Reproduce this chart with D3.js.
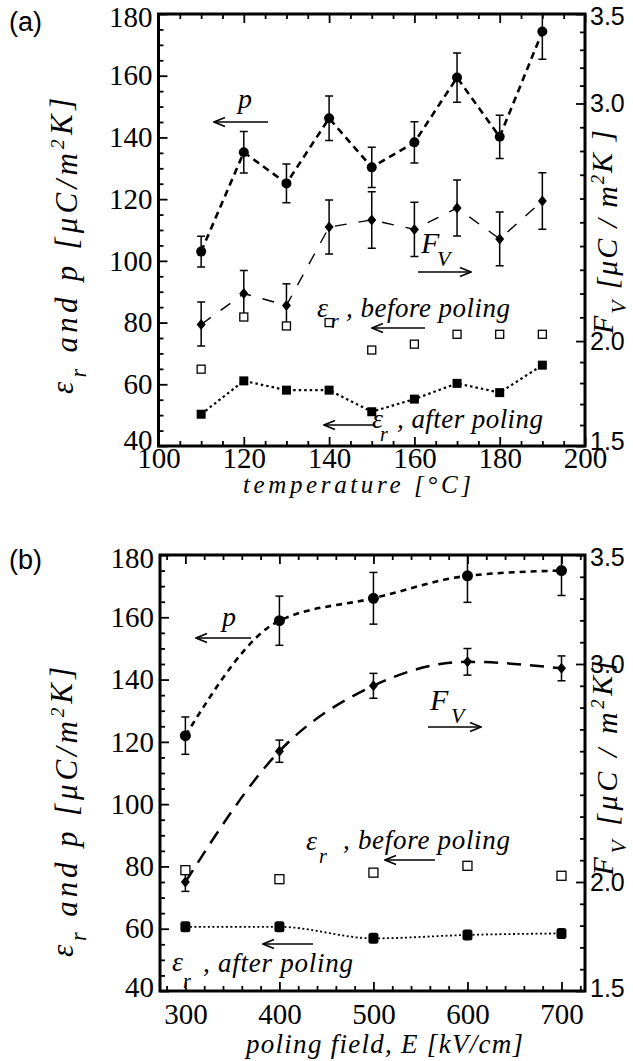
<!DOCTYPE html>
<html><head><meta charset="utf-8">
<script src="https://cdn.jsdelivr.net/npm/d3@7"></script>
<style>body{margin:0;background:#fff}svg{display:block}</style>
</head><body>
<svg id="c" width="633" height="1061"></svg>
<script>
// ---------- DATA ----------
const tempA = [110,120,130,140,150,160,170,180,190];
const pyroA = [103,135.2,125.1,146.2,130.3,138.4,159.4,140.2,174.3];
const pyroErrA = [5,6.7,6.3,7.2,6.5,6.7,8,7,9];
const fomA = [2.07,2.20,2.15,2.48,2.51,2.47,2.56,2.43,2.59];
const fomErrA = [0.094,0.097,0.091,0.114,0.119,0.114,0.118,0.113,0.119];
const epsBeforeA = [64.9,81.8,78.9,80.0,71.1,73.0,76.2,76.2,76.2];
const epsAfterA = [50.3,61.1,58.1,58.1,51.1,55.2,60.3,57.3,66.2];

const fieldB = [300,400,500,600,700];
const pyroB = [122.0,158.9,166.1,173.3,175.0];
const pyroErrB = [6,7.9,8.3,8.5,8];
const fomB = [2.00,2.60,2.90,3.01,2.98];
const fomErrB = [0.043,0.051,0.057,0.061,0.057];
const epsBeforeB = [78.8,75.9,78.0,80.2,77.0];
const epsAfterB = [60.6,60.6,56.9,58.0,58.5];

const leftTicks = [40,60,80,100,120,140,160,180];
const xTicksA = [100,120,140,160,180,200];
const xTicksB = [300,400,500,600,700];
const rightTicks = [1.5,2.0,3.0,3.5];

// ---------- SETUP ----------
const SERIF = "'Liberation Serif','Times New Roman',serif";
const SANS = "'Liberation Sans',Arial,sans-serif";
const svg = d3.select("#c");
svg.append("rect").attr("width",633).attr("height",1061).attr("fill","#fff");
const defs = svg.append("defs");
defs.append("marker").attr("id","ah").attr("viewBox","-1 -6 13 12")
  .attr("refX",11).attr("refY",0).attr("markerWidth",13).attr("markerHeight",12)
  .attr("markerUnits","userSpaceOnUse").attr("orient","auto")
  .append("path").attr("d","M0,-4.5L11,0L0,4.5").attr("fill","none")
  .attr("stroke","#000").attr("stroke-width",1.6);

function styleAxis(sel, font, size){
  sel.select(".domain").remove();
  sel.selectAll(".tick line").attr("stroke","#000").attr("stroke-width",1.8);
  sel.attr("font-family",font).attr("font-size",size);
  sel.selectAll(".tick text").attr("fill","#000");
}

function richText(g, x, y, parts, size, opts={}){
  const t = g.append("text").attr("x",x).attr("y",y)
    .attr("font-family",SERIF).attr("font-style","italic").attr("font-size",size).attr("fill","#000");
  if(opts.anchor) t.attr("text-anchor",opts.anchor);
  if(opts.transform) t.attr("transform",opts.transform);
  if(opts.len) t.attr("textLength",opts.len).attr("lengthAdjust","spacing");
  parts.forEach(p=>{
    const s = t.append("tspan").text(p.t);
    if(p.sub){ s.attr("dy",size*0.42).attr("font-size",size*0.72); }
    else if(p.sup){ s.attr("dy",-size*0.42).attr("font-size",size*0.62); }
    if(p.back) s.attr("dy",p.back*size);
  });
  return t;
}

function arrow(g,x1,y1,x2,y2){
  g.append("line").attr("x1",x1).attr("y1",y1).attr("x2",x2).attr("y2",y2)
   .attr("stroke","#000").attr("stroke-width",1.5).attr("marker-end","url(#ah)");
}

function panel(o){
  const g = svg.append("g");
  const {x,y,r} = o;
  const [X0,X1] = x.range(), [Y0,Y1] = y.range();
  const cid = "clip"+o.id;
  defs.append("clipPath").attr("id",cid).append("rect")
    .attr("x",X0).attr("y",Y1).attr("width",X1-X0).attr("height",Y0-Y1);

  const leftMinor = d3.range(40,181,5).filter(v=>v%20!==0);
  g.append("g").attr("transform",`translate(${X0},0)`)
    .call(d3.axisLeft(y).tickValues(leftMinor).tickSize(-5).tickFormat(""))
    .call(s=>styleAxis(s,SERIF,29));
  const la = g.append("g").attr("transform",`translate(${X0},0)`)
    .call(d3.axisLeft(y).tickValues(leftTicks).tickSize(-9).tickPadding(6).tickFormat(d3.format("d")))
    .call(s=>styleAxis(s,SERIF,29));
  la.selectAll(".tick text").attr("dy",d=>d===180?"0.42em":(d===40?o.lowDy:"0.32em"));

  const rMinor = d3.range(15,36).map(v=>v/10).filter(v=>!rightTicks.includes(v));
  g.append("g").attr("transform",`translate(${X1},0)`)
    .call(d3.axisRight(r).tickValues(rMinor).tickSize(-5).tickFormat(""))
    .call(s=>styleAxis(s,SANS,25));
  const ra = g.append("g").attr("transform",`translate(${X1},0)`)
    .call(d3.axisRight(r).tickValues(rightTicks).tickSize(-9).tickPadding(5).tickFormat(d3.format(".1f")))
    .call(s=>styleAxis(s,SANS,25));
  ra.selectAll(".tick text").attr("dy",d=>d===3.5?"0.42em":(d===1.5?o.lowDy:"0.32em"));

  [["bottom",Y0],["top",Y1]].forEach(([side,yy])=>{
    const gen = side==="bottom"?d3.axisBottom:d3.axisTop;
    g.append("g").attr("transform",`translate(0,${yy})`)
      .call(gen(x).tickValues(o.xMinor).tickSize(-5).tickFormat(""))
      .call(s=>styleAxis(s,SERIF,29));
    g.append("g").attr("transform",`translate(0,${yy})`)
      .call(gen(x).tickValues(o.xTicks).tickSize(-9).tickPadding(o.xPad)
        .tickFormat(side==="bottom"?d3.format("d"):""))
      .call(s=>styleAxis(s,SERIF,29));
  });

  g.append("rect").attr("x",X0).attr("y",Y1).attr("width",X1-X0).attr("height",Y0-Y1)
    .attr("fill","none").attr("stroke","#000").attr("stroke-width",3);

  const plot = g.append("g").attr("clip-path",`url(#${cid})`);
  const xs = o.xs;
  const line = (vals, sc) => d3.line().curve(o.curve).x((d,i)=>x(xs[i])).y(d=>sc(d))(vals);

  plot.append("path").attr("d",line(o.after,y)).attr("fill","none").attr("stroke","#000")
    .attr("stroke-width",o.afterW).attr("stroke-dasharray",o.afterDash);
  plot.append("path").attr("d",line(o.fom,r)).attr("fill","none").attr("stroke","#000")
    .attr("stroke-width",o.fomW).attr("stroke-dasharray",o.fomDash);
  plot.append("path").attr("d",line(o.pyro,y)).attr("fill","none").attr("stroke","#000")
    .attr("stroke-width",o.pyroW).attr("stroke-dasharray",o.pyroDash);

  const ebar = (vals, errs, sc) => {
    vals.forEach((v,i)=>{
      const cx = x(xs[i]), ya = sc(v+errs[i]), yb = sc(v-errs[i]);
      plot.append("line").attr("x1",cx).attr("x2",cx).attr("y1",ya).attr("y2",yb)
        .attr("stroke","#000").attr("stroke-width",1.5);
      [ya,yb].forEach(yy=>plot.append("line").attr("x1",cx-4).attr("x2",cx+4).attr("y1",yy).attr("y2",yy)
        .attr("stroke","#000").attr("stroke-width",1.5));
    });
  };
  ebar(o.pyro,o.pyroErr,y);
  ebar(o.fom,o.fomErr,r);

  plot.selectAll(".eb").data(o.before).join("rect")
    .attr("x",(d,i)=>x(xs[i])-o.openS/2).attr("y",d=>y(d)-o.openS/2)
    .attr("width",o.openS).attr("height",o.openS).attr("fill","#fff").attr("stroke","#000").attr("stroke-width",1.3);
  plot.selectAll(".ea").data(o.after).join("rect")
    .attr("x",(d,i)=>x(xs[i])-o.fillW/2).attr("y",d=>y(d)-o.fillH/2)
    .attr("width",o.fillW).attr("height",o.fillH).attr("rx",o.fillR).attr("fill","#000");
  plot.selectAll(".pc").data(o.pyro).join("circle")
    .attr("cx",(d,i)=>x(xs[i])).attr("cy",d=>y(d)).attr("r",o.cr).attr("fill","#000");
  plot.selectAll(".fd").data(o.fom).join("path")
    .attr("d",(d,i)=>{const cx=x(xs[i]),cy=r(d);return `M${cx},${cy-5.5}L${cx+4.5},${cy}L${cx},${cy+5.5}L${cx-4.5},${cy}Z`;})
    .attr("fill","#000");
  return g;
}

// ---------- PANEL A ----------
const xA = d3.scaleLinear().domain([100,200]).range([158.5,585]);
const yA = d3.scaleLinear().domain([40,180]).range([446,14]);
const rA = d3.scaleLinear().domain([1.5,2.0,3.0,3.5]).range([yA(40),yA(74),yA(151),yA(180)]);
panel({id:"A",x:xA,y:yA,r:rA,xs:tempA,xTicks:xTicksA,xMinor:d3.range(100,201,5).filter(v=>v%20!==0),
  xPad:1,lowDy:"0.12em",curve:d3.curveLinear,pyro:pyroA,pyroErr:pyroErrA,fom:fomA,fomErr:fomErrA,before:epsBeforeA,after:epsAfterA,
  pyroW:2.6,pyroDash:"7,5",fomW:1.4,fomDash:"12,12",afterW:2.2,afterDash:"2.5,3",
  openS:8,fillW:9,fillH:9,fillR:0,cr:5});

// ---------- PANEL B ----------
const xB = d3.scaleLinear().domain([273,725]).range([160,585]);
const yB = d3.scaleLinear().domain([40,180]).range([991,555]);
const rB = d3.scaleLinear().domain([1.5,3.5]).range([991,555]);
panel({id:"B",x:xB,y:yB,r:rB,xs:fieldB,xTicks:xTicksB,xMinor:d3.range(280,721,20).filter(v=>v%100!==0),
  xPad:12,lowDy:"0.2em",curve:d3.curveMonotoneX,pyro:pyroB,pyroErr:pyroErrB,fom:fomB,fomErr:fomErrB,before:epsBeforeB,after:epsAfterB,
  pyroW:2.6,pyroDash:"6,5",fomW:2.5,fomDash:"14,9",afterW:1.8,afterDash:"2,2.5",
  openS:9,fillW:10,fillH:11,fillR:2.5,cr:5.5});

// ---------- TEXT ----------
svg.append("text").attr("x",9).attr("y",31).attr("font-family",SANS).attr("font-size",27).text("(a)");
svg.append("text").attr("x",9).attr("y",569).attr("font-family",SANS).attr("font-size",27).text("(b)");

richText(svg,243,493,[{t:"temperature  [°C]"}],25,{len:228});
richText(svg,246,1053,[{t:"poling field, E [kV/cm]"}],27,{len:277});

const leftTitle = [{t:"ε"},{t:"r",sub:true},{t:"  and  p  [μC/m",back:-0.30},{t:"2",sup:true},{t:"K]",back:0.26}];
richText(svg,0,0,leftTitle,31,{anchor:"middle",transform:"translate(73,246) rotate(-90)",len:296});
richText(svg,0,0,leftTitle,31,{anchor:"middle",transform:"translate(73,812) rotate(-90)",len:290});

const rtA = [{t:"F"},{t:"V",sub:true},{t:"  [μC / m",back:-0.30},{t:"2",sup:true},{t:"K ]",back:0.26}];
richText(svg,0,0,rtA,30,{anchor:"middle",transform:"translate(613,232) rotate(-90)",len:204});
const rtB = [{t:"F"},{t:"V",sub:true},{t:"  [μC / m",back:-0.30},{t:"2",sup:true},{t:"K]",back:0.26}];
richText(svg,0,0,rtB,30,{anchor:"middle",transform:"translate(613,768) rotate(-90)",len:215});

// annotations panel A
richText(svg,238,108,[{t:"p"}],28);
arrow(svg,268,122,214,122);
richText(svg,421,253,[{t:"F"}],30);
richText(svg,437,266,[{t:"V"}],22);
arrow(svg,418,272,471,272);
richText(svg,317,317,[{t:"ε"}],28);
richText(svg,331,328,[{t:"r"}],20);
richText(svg,346,317,[{t:", before poling"}],27,{len:164});
arrow(svg,425,328,372,328);
richText(svg,372,428,[{t:"ε"}],28);
richText(svg,380,441,[{t:"r"}],20);
richText(svg,397,428,[{t:", after poling"}],27,{len:146});
arrow(svg,373,425,324,425);

// annotations panel B
richText(svg,222,626,[{t:"p"}],28);
arrow(svg,251,638,196,638);
richText(svg,430,710,[{t:"F"}],30);
richText(svg,451,723,[{t:"V"}],22);
arrow(svg,428,727,481,727);
richText(svg,306,850,[{t:"ε"}],28);
richText(svg,319,863,[{t:"r"}],20);
richText(svg,343,849,[{t:", before poling"}],27,{len:167});
arrow(svg,435,860,385,860);
richText(svg,172,971,[{t:"ε"}],28);
richText(svg,183,988,[{t:"r"}],20);
richText(svg,203,972,[{t:", after poling"}],27,{len:150});
arrow(svg,313,944,263,944);
</script>
</body></html>
